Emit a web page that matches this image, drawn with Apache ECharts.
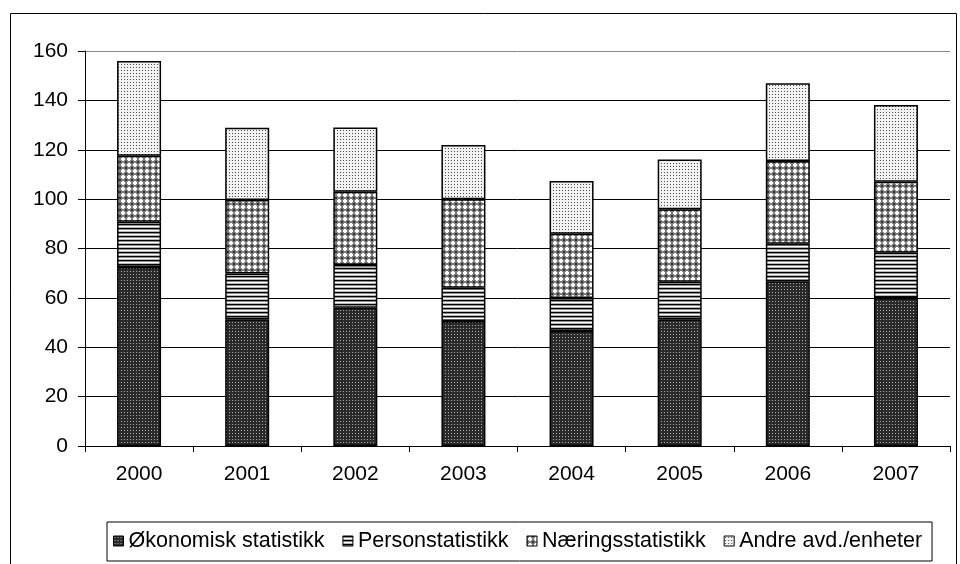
<!DOCTYPE html>
<html>
<head>
<meta charset="utf-8">
<script src="https://cdn.jsdelivr.net/npm/echarts@6/dist/echarts.min.js"></script>
<style>
  html, body { margin: 0; padding: 0; background: #fff; }
  #chart { width: 960px; height: 564px; }
</style>
</head>
<body>
<div id="chart"></div>
<script>
// år og verdier (lest av bildet)
var years = ['2000', '2001', '2002', '2003', '2004', '2005', '2006', '2007'];
var okonomisk = [72.5, 51.3, 56, 50.6, 46.6, 51.3, 66.7, 60];
var person = [18.3, 18.6, 17.3, 13.5, 13.4, 15.2, 15.2, 18.3];
var naering = [26.8, 29.7, 29.7, 35.8, 26, 29.4, 33.5, 28.7];
var andre = [38.4, 29.3, 26, 22, 21.3, 20.2, 31.5, 31.1];
var seriesNames = ['Økonomisk statistikk', 'Personstatistikk', 'Næringsstatistikk', 'Andre avd./enheter'];

// mønstre
function makePattern(w, h, draw) {
  var c = document.createElement('canvas');
  c.width = w; c.height = h;
  var ctx = c.getContext('2d');
  draw(ctx);
  return { image: c, repeat: 'repeat' };
}

var darkDots = makePattern(3, 3, function (ctx) {
  ctx.fillStyle = '#2a2a2a';
  ctx.fillRect(0, 0, 3, 3);
  ctx.fillStyle = '#b0b0b0';
  ctx.fillRect(1, 1, 1, 1);
});

var stripes = makePattern(2, 4, function (ctx) {
  ctx.fillStyle = '#000'; ctx.fillRect(0, 0, 2, 1);
  ctx.fillStyle = '#8a8a8a'; ctx.fillRect(0, 1, 2, 1);
  ctx.fillStyle = '#fff'; ctx.fillRect(0, 2, 2, 1);
  ctx.fillStyle = '#b5b5b5'; ctx.fillRect(0, 3, 2, 1);
});

var cross = makePattern(6, 6, function (ctx) {
  ctx.fillStyle = '#7c7c7c';
  ctx.fillRect(0, 0, 6, 6);
  ctx.fillStyle = '#ffffff';
  ctx.fillRect(2, 1, 2, 4);
  ctx.fillRect(1, 2, 4, 2);
  ctx.fillStyle = '#333';
  ctx.fillRect(0, 0, 1, 1);
  ctx.fillRect(5, 5, 1, 1);
  ctx.fillRect(0, 5, 1, 1);
  ctx.fillRect(5, 0, 1, 1);
});

var lightDots = makePattern(3, 3, function (ctx) {
  ctx.fillStyle = '#f2f2f2';
  ctx.fillRect(0, 0, 3, 3);
  ctx.fillStyle = '#4a4a4a';
  ctx.fillRect(1, 1, 1, 1);
});

var fills = [darkDots, stripes, cross, lightDots];
var values = [okonomisk, person, naering, andre];

var series = [];
for (var i = 0; i < seriesNames.length; i++) {
  series.push({
    name: seriesNames[i],
    type: 'bar',
    stack: 'total',
    barWidth: 44,
    data: values[i],
    itemStyle: {
      color: fills[i],
      borderColor: '#000',
      borderWidth: 1.5
    }
  });
}

var fontFam = 'Liberation Sans, Arial, sans-serif';
var chart = echarts.init(document.getElementById('chart'));
chart.setOption({
  animation: false,
  backgroundColor: '#fff',
  textStyle: { fontFamily: fontFam },
  graphic: [{
    type: 'rect',
    left: 8, top: 11,
    shape: { width: 946, height: 570 },
    style: { fill: 'none', stroke: '#000', lineWidth: 1 },
    silent: true
  }],
  grid: { left: 85, right: 10, top: 51, bottom: 118 },
  legend: {
    left: 107, top: 522,
    width: 840,
    borderColor: '#000', borderWidth: 1,
    padding: [8, 10, 9, 6],
    itemWidth: 10, itemHeight: 10, itemGap: 18,
    icon: 'rect',
    textStyle: { fontSize: 21.5, color: '#000', fontFamily: fontFam, padding: [0, 0, 0, 0] },
    itemStyle: { borderColor: '#000', borderWidth: 1 },
    data: seriesNames
  },
  xAxis: {
    type: 'category',
    data: years,
    axisLine: { lineStyle: { color: '#000', width: 1 } },
    axisTick: { show: true, length: 6, lineStyle: { color: '#000' } },
    axisLabel: { fontSize: 21, color: '#000', margin: 18 }
  },
  yAxis: {
    type: 'value',
    min: 0, max: 160, interval: 20,
    axisLine: { show: true, lineStyle: { color: '#000', width: 1 } },
    axisTick: { show: true, length: 7, lineStyle: { color: '#000' } },
    axisLabel: { fontSize: 21, color: '#000', margin: 17 },
    splitLine: { lineStyle: { color: ['#000', '#000', '#000', '#000', '#000', '#000', '#000', '#000', '#888'], width: 1 } }
  },
  series: series
});
</script>
</body>
</html>
